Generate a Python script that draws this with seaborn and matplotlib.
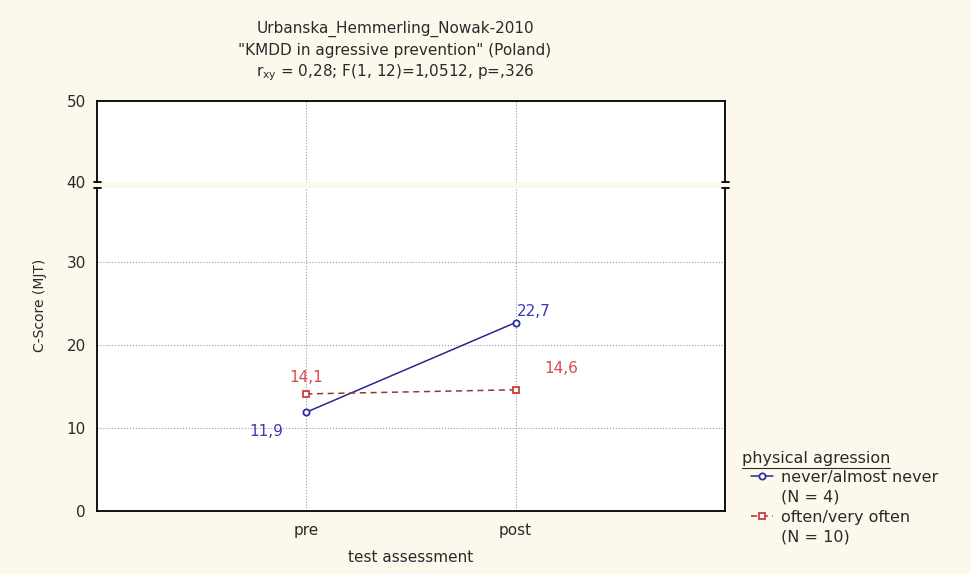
import numpy as np
import pandas as pd
import matplotlib.pyplot as plt
from matplotlib.lines import Line2D
import seaborn as sns

# =========================
# data
# =========================
sessions = ["pre", "post"]
never_scores = [11.9, 22.7]
often_scores = [14.1, 14.6]
group_names = ["never/almost never", "often/very often"]
group_n = [4, 10]
low_yticks = [0, 10, 20, 30]
top_yticks = [40, 50]

title_lines = [
    "Urbanska_Hemmerling_Nowak-2010",
    "\"KMDD in agressive prevention\" (Poland)",
    r"$\mathregular{r_{xy}}$ = 0,28; F(1, 12)=1,0512, p=,326",
]

# =========================
# style
# =========================
bg = "#FCF8EC"
blue_line = "#28288A"
blue_mark = "#2E2EA6"
blue_txt = "#3A3AB4"
red_line = "#A23030"
red_mark = "#D23A3A"
red_txt = "#E04848"
txt = "#2A2A2A"

sns.set_theme(style="white")
plt.rcParams["font.family"] = ["DejaVu Sans"]

W, H = 971, 574
fig = plt.figure(figsize=(W / 100, H / 100), dpi=100, facecolor=bg)

left, right = 97 / W, 725 / W
ax_top = fig.add_axes([left, 1 - 182 / H, right - left, (182 - 101) / H])
ax = fig.add_axes([left, 1 - 511 / H, right - left, (511 - 188) / H])

for a in (ax, ax_top):
    a.set_facecolor("white")
    for s in a.spines.values():
        s.set_color("black")
        s.set_linewidth(1.3)

# =========================
# lines
# =========================
sns.lineplot(x=sessions, y=never_scores, sort=False, ax=ax,
             color=blue_line, linewidth=1.1, marker="o", markersize=4.5,
             markerfacecolor="white", markeredgecolor=blue_mark,
             markeredgewidth=1.3, label=group_names[0])
sns.lineplot(x=sessions, y=often_scores, sort=False, ax=ax,
             color=red_line, linewidth=1.1, linestyle=(0, (4, 3)),
             marker="s", markersize=4.5,
             markerfacecolor="white", markeredgecolor=red_mark,
             markeredgewidth=1.3, label=group_names[1])

# value labels
for i, v in enumerate(never_scores):
    off = (-29, -14) if i == 0 else (13, 8)
    ax.annotate(f"{v:.1f}".replace(".", ","), xy=(i, v), xytext=off,
                textcoords="offset points", ha="center", va="center",
                color=blue_txt, fontsize=11)
for i, v in enumerate(often_scores):
    off = (0, 12) if i == 0 else (33, 15)
    ax.annotate(f"{v:.1f}".replace(".", ","), xy=(i, v), xytext=off,
                textcoords="offset points", ha="center", va="center",
                color=red_txt, fontsize=11)

# =========================
# axes
# =========================
ax.set_xlim(-1, 2)
ax.set_xticks(range(len(sessions)), sessions)
ax.set_ylim(0, 38.9)
ax.set_yticks(low_yticks)
ax.tick_params(axis="x", direction="in", length=3, width=1, pad=9,
               labelsize=11, colors="black", labelcolor=txt)
ax.tick_params(axis="y", length=0, pad=8, labelsize=11, labelcolor=txt)
ax.grid(True, linestyle=":", color="#9A9A9A", linewidth=0.8)
ax.spines["top"].set_visible(False)
ax.set_xlabel("")
ax.set_ylabel("")
ax.get_legend().remove()

ax_top.set_xlim(-1, 2)
ax_top.set_xticks(range(len(sessions)))
ax_top.set_xticklabels([])
ax_top.set_ylim(40, 50)
ax_top.set_yticks(top_yticks)
ax_top.tick_params(axis="x", length=0)
ax_top.tick_params(axis="y", length=0, pad=8, labelsize=11, labelcolor=txt)
ax_top.grid(True, axis="x", linestyle=":", color="#9A9A9A", linewidth=0.8)
ax_top.spines["bottom"].set_visible(False)

# axis break caps
cap = 3.5 / (725 - 97)
for a, yy in ((ax_top, 0), (ax, 1)):
    for xx in (0, 1):
        a.plot([xx - cap, xx + cap], [yy, yy], transform=a.transAxes,
               color="black", lw=1.3, clip_on=False)

# =========================
# texts
# =========================
tx = 395 / W
for t, yy in zip(title_lines, [29, 51, 73]):
    fig.text(tx, 1 - yy / H, t, ha="center", va="center", fontsize=11, color=txt)

fig.text((97 + 725) / 2 / W, 1 - 557 / H, "test assessment", ha="center",
         va="center", fontsize=11, color=txt)
fig.text(40 / W, 1 - 305 / H, "C-Score (MJT)", rotation=90, ha="center",
         va="center", fontsize=10, color=txt)

# =========================
# legend
# =========================
h, l = ax.get_legend_handles_labels()
blank = Line2D([], [], linestyle="none")
handles = [h[0], blank, h[1], blank]
labels = [group_names[0], f"(N = {group_n[0]})",
          group_names[1], f"(N = {group_n[1]})"]
fig.legend(handles, labels, loc="upper left",
           bbox_to_anchor=(751 / W, 1 - 470 / H), frameon=False,
           handlelength=1.4, handletextpad=0.45, labelspacing=0.3,
           borderpad=0, borderaxespad=0, fontsize=11.5, labelcolor=txt)

leg_title = fig.text(742 / W, 1 - 459 / H, "physical agression", ha="left",
                     va="center", fontsize=11.5, color=txt)
fig.canvas.draw()
bb = leg_title.get_window_extent(fig.canvas.get_renderer())
fig.add_artist(Line2D([bb.x0 / W, bb.x1 / W], [(bb.y0 - 1) / H] * 2,
                      transform=fig.transFigure, color=txt, lw=0.8))

fig.savefig("out.png", dpi=100, facecolor=bg)
